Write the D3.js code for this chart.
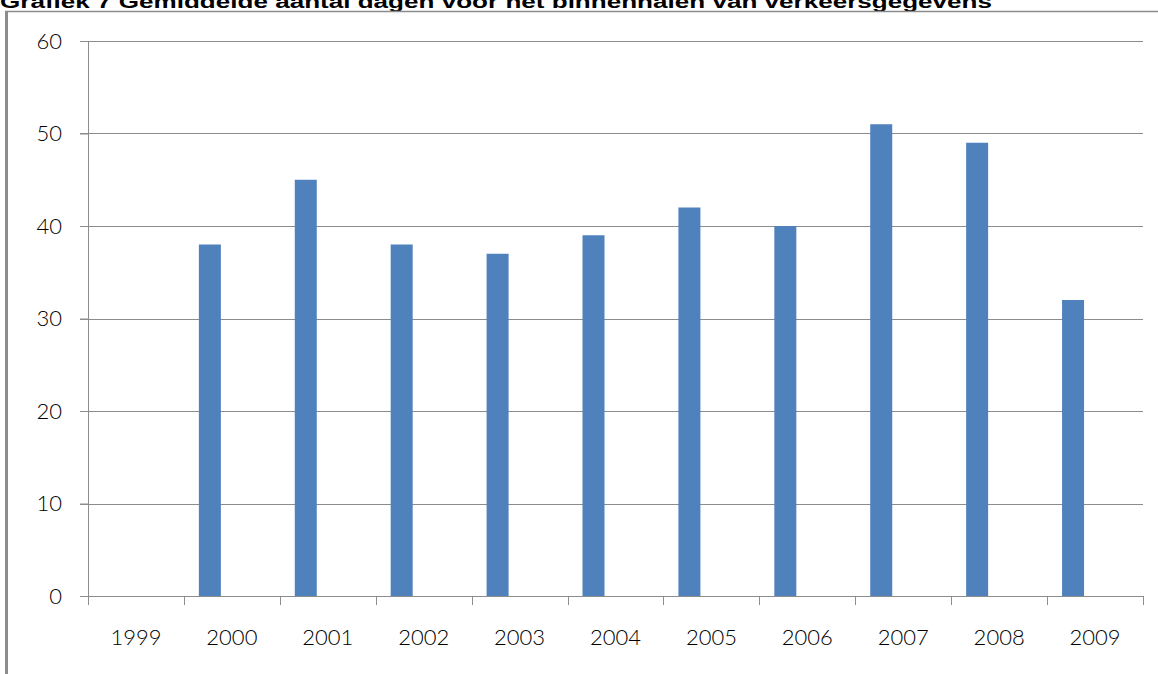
<!DOCTYPE html>
<html>
<head>
<meta charset="utf-8">
<script src="https://cdn.jsdelivr.net/npm/d3@7"></script>
<style>
  body { margin: 0; background: #fff; }
  svg { display: block; }
</style>
</head>
<body>
<div id="chart-area"></div>
<script>
const years = ["1999", "2000", "2001", "2002", "2003", "2004", "2005", "2006", "2007", "2008", "2009"]
const days = [null, 38, 45, 38, 37, 39, 42, 40, 51, 49, 32]
const yTicks = [0, 10, 20, 30, 40, 50, 60]

const W = 1158, H = 674
const MARGIN = { LEFT: 88, RIGHT: 15, TOP: 41, BOTTOM: 78 }
const WIDTH = W - MARGIN.LEFT - MARGIN.RIGHT
const HEIGHT = H - MARGIN.TOP - MARGIN.BOTTOM

const svg = d3.select("#chart-area").append("svg")
  .attr("width", W)
  .attr("height", H)

// title, cut off by the top edge like in the original
svg.append("text")
  .attr("x", 0)
  .attr("y", 8)
  .attr("font-family", "Liberation Sans, Arial, sans-serif")
  .attr("font-weight", "bold")
  .attr("font-size", "18px")
  .attr("textLength", 992)
  .attr("lengthAdjust", "spacingAndGlyphs")
  .text("Grafiek 7 Gemiddelde aantal dagen voor het binnenhalen van verkeersgegevens")

// chart frame
svg.append("line")
  .attr("x1", 5).attr("x2", W).attr("y1", 11.5).attr("y2", 11.5)
  .attr("stroke", "#8c8c8c").attr("stroke-width", 1.5)
svg.append("line")
  .attr("x1", 6.5).attr("x2", 6.5).attr("y1", 11).attr("y2", H)
  .attr("stroke", "#8c8c8c").attr("stroke-width", 3)

const g = svg.append("g")
  .attr("transform", `translate(${MARGIN.LEFT}, ${MARGIN.TOP})`)

const x = d3.scaleBand()
  .domain(years)
  .range([0, WIDTH])

// three series slots per year, only the first one is filled
const xSub = d3.scaleBand()
  .domain([0, 1, 2])
  .range([0, x.bandwidth()])
  .paddingOuter(0.68)

const y = d3.scaleLinear()
  .domain([0, 60])
  .range([HEIGHT, 0])

// gridlines
g.selectAll(".grid")
  .data(yTicks.filter(d => d > 0))
  .enter().append("line")
  .attr("class", "grid")
  .attr("x1", -8)
  .attr("x2", WIDTH)
  .attr("y1", d => Math.round(y(d)) + 0.5)
  .attr("y2", d => Math.round(y(d)) + 0.5)
  .attr("stroke", "#8c8c8c")

// bars
g.selectAll("rect")
  .data(years.map((yr, i) => ({ yr, v: days[i] })).filter(d => d.v != null))
  .enter().append("rect")
  .attr("x", d => x(d.yr) + xSub(0))
  .attr("width", xSub.bandwidth())
  .attr("y", d => y(d.v))
  .attr("height", d => HEIGHT - y(d.v))
  .attr("fill", "#4f81bd")

// y axis
const yAxisGroup = g.append("g")
  .call(d3.axisLeft(y).tickValues(yTicks).tickSize(8).tickPadding(18))
yAxisGroup.select(".domain").attr("stroke", "#8c8c8c")
yAxisGroup.selectAll(".tick line").attr("stroke", "#8c8c8c")
yAxisGroup.selectAll("text")
  .attr("font-family", "Lato, 'Open Sans', sans-serif")
  .attr("font-weight", 300)
  .attr("font-size", "22px")
  .attr("fill", "#000")

// x axis
const xAxisGroup = g.append("g")
  .attr("transform", `translate(0, ${HEIGHT})`)
  .call(d3.axisBottom(x).tickSize(0).tickPadding(33))
xAxisGroup.select(".domain").attr("stroke", "#8c8c8c")
xAxisGroup.selectAll("text")
  .attr("font-family", "Lato, 'Open Sans', sans-serif")
  .attr("font-weight", 300)
  .attr("font-size", "22px")
  .attr("fill", "#000")

// category separator ticks
g.selectAll(".xtick")
  .data(years.concat(["end"]))
  .enter().append("line")
  .attr("class", "xtick")
  .attr("x1", (d, i) => Math.round(i * x.step()) + 0.5)
  .attr("x2", (d, i) => Math.round(i * x.step()) + 0.5)
  .attr("y1", HEIGHT)
  .attr("y2", HEIGHT + 9)
  .attr("stroke", "#8c8c8c")
</script>
</body>
</html>
